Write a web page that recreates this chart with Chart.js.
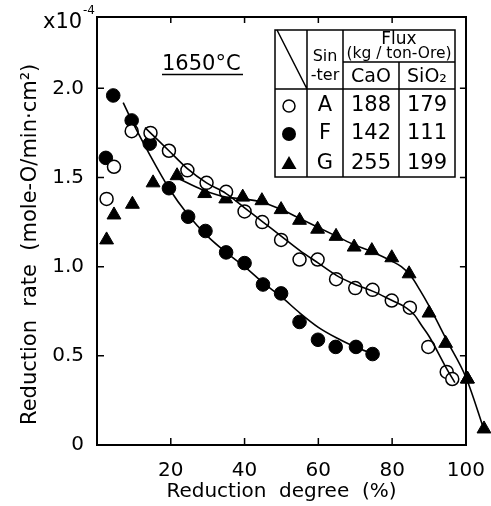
<!DOCTYPE html>
<html>
<head>
<meta charset="utf-8">
<script src="https://cdn.jsdelivr.net/npm/chart.js@4.4.1/dist/chart.umd.min.js"></script>
<style>
  html, body { margin: 0; padding: 0; background: #fff; }
</style>
</head>
<body>
<canvas id="chart" width="491" height="506"></canvas>
<script>
// sinter A (open circles)
const degA  = [2.6, 4.6, 9.4, 14.5, 19.5, 24.5, 29.7, 35.0, 40.0, 44.8, 49.9, 54.9, 59.8, 64.8, 70.0, 74.7, 79.9, 84.8, 89.8, 94.8, 96.3];
const rateA = [1.38, 1.56, 1.76, 1.75, 1.65, 1.54, 1.47, 1.42, 1.31, 1.25, 1.15, 1.04, 1.04, 0.93, 0.88, 0.87, 0.81, 0.77, 0.55, 0.41, 0.37];
// sinter F (filled circles)
const degF  = [2.4, 4.4, 9.4, 14.3, 19.5, 24.7, 29.4, 35.0, 40.0, 45.0, 49.9, 54.9, 59.9, 64.7, 70.2, 74.7];
const rateF = [1.61, 1.96, 1.82, 1.69, 1.44, 1.28, 1.20, 1.08, 1.02, 0.90, 0.85, 0.69, 0.59, 0.55, 0.55, 0.51];
// sinter G (filled triangles)
const degG  = [2.6, 4.6, 9.6, 15.2, 21.7, 29.2, 34.9, 39.5, 44.7, 49.9, 54.9, 59.8, 64.8, 69.7, 74.5, 79.9, 84.6, 90.0, 94.5, 100.4, 104.9];
const rateG = [1.15, 1.29, 1.35, 1.47, 1.51, 1.41, 1.38, 1.39, 1.37, 1.32, 1.26, 1.21, 1.17, 1.11, 1.09, 1.05, 0.96, 0.74, 0.57, 0.37, 0.09];

// hand-drawn fitted curves
const fitAx = [13.0, 19.5, 24.5, 29.7, 35, 40, 45, 50, 55, 60, 65, 70, 75, 80, 83, 86, 88, 90, 95, 97];
const fitAy = [1.78, 1.65, 1.55, 1.47, 1.41, 1.33, 1.25, 1.17, 1.09, 1.02, 0.95, 0.90, 0.86, 0.81, 0.78, 0.73, 0.67, 0.61, 0.42, 0.35];
const fitFx = [7.1, 9.4, 14.5, 19.5, 24.7, 30, 35, 40, 45, 50, 55, 60, 65, 70, 75];
const fitFy = [1.92, 1.82, 1.62, 1.44, 1.29, 1.17, 1.08, 1.00, 0.91, 0.83, 0.74, 0.66, 0.60, 0.55, 0.51];
const fitGx = [21.5, 28.7, 35, 40, 45, 50, 55, 60, 65, 70, 75, 80, 82.5, 85, 87.5, 90, 95, 100, 105];
const fitGy = [1.50, 1.43, 1.39, 1.38, 1.36, 1.32, 1.27, 1.22, 1.17, 1.12, 1.08, 1.03, 1.00, 0.95, 0.87, 0.78, 0.58, 0.38, 0.08];

// legend table
const sinters = ["A", "F", "G"];
const caoFlux = [188, 142, 255];
const sio2Flux = [179, 111, 199];

const xTicks = [20, 40, 60, 80, 100];
const yTicks = [0, 0.5, 1.0, 1.5, 2.0];
const yTickLabels = ["0", "0.5", "1.0", "1.5", "2.0"];

const FONT = "DejaVu Sans";
const pts = (xs, ys) => xs.map((x, i) => ({ x: x, y: ys[i] }));

const curve = (xs, ys) => ({
  data: pts(xs, ys), showLine: true, pointRadius: 0, borderColor: "#000",
  borderWidth: 1.6, cubicInterpolationMode: "monotone", clip: false
});

const decor = {
  id: "decor",
  afterDatasetsDraw(chart) {
    // triangles past x=100 are skipped by the point element's area test, redraw them
    const full = { left: 0, top: 0, right: chart.width, bottom: chart.height };
    chart.getDatasetMeta(5).data.forEach(p => {
      if (p.x > chart.chartArea.right) p.draw(chart.ctx, full);
    });
  },
  afterDraw(chart) {
    const ctx = chart.ctx;
    const sx = chart.scales.x, sy = chart.scales.y;
    const a = chart.chartArea;
    ctx.save();
    ctx.strokeStyle = "#000";
    ctx.fillStyle = "#000";
    ctx.lineWidth = 1.5;

    // inward tick marks
    ctx.beginPath();
    xTicks.forEach(v => {
      const px = sx.getPixelForValue(v);
      ctx.moveTo(px, a.bottom); ctx.lineTo(px, a.bottom - 7);
      if (v < 100) { ctx.moveTo(px, a.top); ctx.lineTo(px, a.top + 6); }
    });
    yTicks.forEach(v => {
      if (v === 0) return;
      const py = sy.getPixelForValue(v);
      ctx.moveTo(a.left, py); ctx.lineTo(a.left + 7, py);
      ctx.moveTo(a.right, py); ctx.lineTo(a.right - 6, py);
    });
    ctx.stroke();

    // exponent label
    ctx.textBaseline = "alphabetic";
    ctx.textAlign = "left";
    ctx.font = "21px " + FONT;
    ctx.fillText("x10", 43, 28);
    ctx.font = "12px " + FONT;
    ctx.fillText("-4", 83, 14);

    // temperature
    ctx.font = "21px " + FONT;
    ctx.fillText("1650°C", 162, 70);
    ctx.beginPath();
    ctx.moveTo(162, 74.5); ctx.lineTo(243, 74.5);
    ctx.stroke();

    // table
    const L = 275, R = 455, T = 30, B = 177;
    const c1 = 307, c2 = 343, c3 = 399, hb = 89;
    ctx.fillStyle = "#fff";
    ctx.fillRect(L, T, R - L, B - T);
    ctx.fillStyle = "#000";
    ctx.lineWidth = 1.5;
    ctx.strokeRect(L, T, R - L, B - T);
    ctx.beginPath();
    ctx.moveTo(c1, T); ctx.lineTo(c1, B);
    ctx.moveTo(c2, T); ctx.lineTo(c2, B);
    ctx.moveTo(c3, 62); ctx.lineTo(c3, B);
    ctx.moveTo(c2, 62); ctx.lineTo(R, 62);
    ctx.moveTo(L, hb); ctx.lineTo(R, hb);
    ctx.moveTo(L + 2, T); ctx.lineTo(c1, hb);
    ctx.stroke();

    ctx.textAlign = "center";
    ctx.textBaseline = "middle";
    ctx.font = "17px " + FONT;
    ctx.fillText("Flux", (c2 + R) / 2, 40);
    ctx.font = "15.5px " + FONT;
    ctx.fillText("(kg / ton-Ore)", (c2 + R) / 2, 54);
    ctx.font = "16px " + FONT;
    ctx.fillText("Sin", (c1 + c2) / 2, 57);
    ctx.fillText("-ter", (c1 + c2) / 2, 76);
    ctx.font = "19px " + FONT;
    ctx.fillText("CaO", (c2 + c3) / 2, 77);
    ctx.fillText("SiO₂", (c3 + R) / 2, 77);

    const rowY = [106, 134, 164];
    ctx.font = "21px " + FONT;
    sinters.forEach((s, i) => {
      const y = rowY[i];
      ctx.fillText(s, (c1 + c2) / 2, y);
      ctx.fillText(String(caoFlux[i]), (c2 + c3) / 2, y);
      ctx.fillText(String(sio2Flux[i]), (c3 + R) / 2, y);
    });
    const mx = (L + c1) / 2 - 2;
    ctx.beginPath();
    ctx.arc(mx, rowY[0], 6, 0, Math.PI * 2);
    ctx.stroke();
    ctx.beginPath();
    ctx.arc(mx, rowY[1], 7, 0, Math.PI * 2);
    ctx.fill();
    ctx.beginPath();
    ctx.moveTo(mx, rowY[2] - 8); ctx.lineTo(mx + 7.5, rowY[2] + 5); ctx.lineTo(mx - 7.5, rowY[2] + 5);
    ctx.closePath();
    ctx.fill();
    ctx.restore();
  }
};

const axisBorder = { display: true, color: "#000", width: 2 };

new Chart(document.getElementById("chart"), {
  type: "scatter",
  data: {
    datasets: [
      curve(fitAx, fitAy),
      curve(fitFx, fitFy),
      curve(fitGx, fitGy),
      { data: pts(degA, rateA), pointStyle: "circle", pointRadius: 6.5, backgroundColor: "#fff", borderColor: "#000", borderWidth: 1.5 },
      { data: pts(degF, rateF), pointStyle: "circle", pointRadius: 6.8, backgroundColor: "#000", borderColor: "#000", borderWidth: 1 },
      { data: pts(degG, rateG), pointStyle: "triangle", pointRadius: 8, backgroundColor: "#000", borderColor: "#000", borderWidth: 1, clip: false }
    ]
  },
  options: {
    responsive: false,
    animation: false,
    devicePixelRatio: 1,
    layout: { padding: 0 },
    plugins: { legend: { display: false }, tooltip: { enabled: false } },
    scales: {
      x: {
        type: "linear", position: "bottom",
        // range set here (not as min/max options) so points past 100 still get laid out
        afterDataLimits: s => { s.min = 0; s.max = 100; },
        afterBuildTicks: s => { s.ticks = xTicks.map(v => ({ value: v })); },
        ticks: { color: "#000", font: { family: FONT, size: 20 }, padding: 6, maxRotation: 0, autoSkip: false },
        grid: { display: false },
        border: axisBorder,
        title: { display: true, text: "Reduction  degree  (%)", color: "#000", font: { family: FONT, size: 20 }, padding: { top: 0, bottom: 2 } },
        afterFit: s => { s.height = 61; }
      },
      x2: {
        type: "linear", position: "top", min: 0, max: 100,
        ticks: { display: false }, grid: { display: false }, border: axisBorder,
        afterFit: s => { s.height = 16; }
      },
      y: {
        type: "linear", position: "left", min: 0, max: 2.4,
        afterBuildTicks: s => { s.ticks = yTicks.map(v => ({ value: v })); },
        ticks: { color: "#000", font: { family: FONT, size: 20 }, padding: 5, callback: v => yTickLabels[yTicks.indexOf(v)] },
        grid: { display: false },
        border: axisBorder,
        title: { display: true, text: "Reduction  rate  (mole-O/min·cm²)    ", color: "#000", font: { family: FONT, size: 21 }, padding: { top: 18, bottom: 0 } },
        afterFit: s => { s.width = 97; }
      },
      y2: {
        type: "linear", position: "right", min: 0, max: 2.4,
        ticks: { display: false }, grid: { display: false }, border: axisBorder,
        afterFit: s => { s.width = 24; }
      }
    }
  },
  plugins: [decor]
});
</script>
</body>
</html>
